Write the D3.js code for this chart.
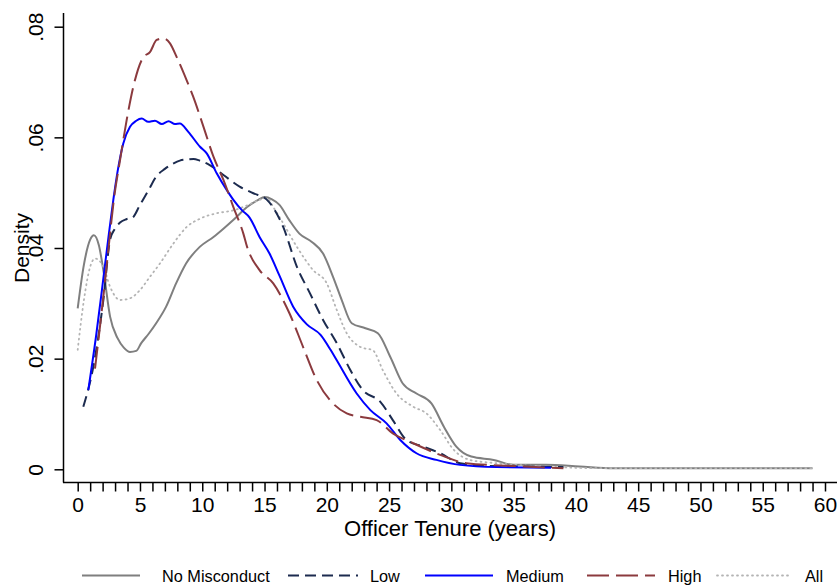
<!DOCTYPE html>
<html><head><meta charset="utf-8">
<script src="https://cdn.jsdelivr.net/npm/d3@7"></script>
<style>body{margin:0;background:#fff}svg{display:block}text{font-family:"Liberation Sans",Arial,Helvetica,sans-serif;fill:#000}</style>
</head><body><svg id="c" width="837" height="587"></svg>
<script>
// ---- data ----
const noMiscX = [0,0.5,1,1.3,1.7,2.1,2.6,3.2,3.7,4.2,4.7,5.1,5.7,6.3,7.1,7.9,8.7,9.8,10.9,11.7,12.6,13.6,14.5,15.0,15.6,16.2,17.0,17.8,18.8,19.7,20.5,21.2,22.0,23.1,24.1,25.1,26.1,27.2,28.4,29.4,30.4,31.6,33.4,35,37.6,40.3,43,46,50,55,59];
const noMiscY = [0.0291,0.037,0.0415,0.0423,0.0405,0.0354,0.0276,0.0237,0.022,0.0212,0.0214,0.0228,0.0245,0.0264,0.0294,0.0336,0.0372,0.0402,0.042,0.0435,0.0453,0.0474,0.0487,0.0492,0.0488,0.0478,0.045,0.0426,0.0411,0.039,0.0348,0.0306,0.0264,0.0255,0.0246,0.0203,0.0155,0.0137,0.0119,0.0077,0.0041,0.0023,0.0017,0.0008,0.0008,0.0005,0.0002,0.0002,0.0002,0.0002,0.0002];
const lowX = [0.45,1.25,2.06,2.6,3.0,3.4,3.9,4.4,5.0,5.7,6.3,7.0,7.7,8.2,8.75,9.3,9.8,10.6,11.7,13.0,14.1,15.2,16.5,17.6,18.65,19.7,20.8,21.9,22.9,24.3,25.3,26.4,27.75,29.1,30.7,33,36,39];
const lowY = [0.0113,0.0185,0.0306,0.0415,0.0435,0.0446,0.0452,0.0455,0.0478,0.0505,0.0529,0.0543,0.0553,0.0558,0.056,0.0561,0.0558,0.055,0.0532,0.0511,0.0499,0.0487,0.0438,0.0366,0.0318,0.027,0.0228,0.0179,0.0143,0.0122,0.0089,0.0053,0.0041,0.0029,0.0011,0.0006,0.0005,0.0004];
const medX = [0.85,1.5,2.06,2.5,2.86,3.2,3.66,4.2,4.7,5.14,5.67,6.2,6.75,7.3,7.81,8.2,8.88,9.82,10.36,11.16,11.96,12.5,13.2,13.8,14.6,15.4,16.2,17.3,18.4,19.5,20.3,20.8,22.4,23.5,24.8,25.9,27.2,28.8,30.7,33.6,38];
const medY = [0.0143,0.0245,0.0345,0.0425,0.0487,0.0538,0.0589,0.0619,0.063,0.0634,0.0628,0.063,0.0624,0.0629,0.0624,0.0625,0.061,0.0583,0.0571,0.0535,0.0505,0.0487,0.0468,0.0455,0.042,0.039,0.035,0.0294,0.0262,0.0243,0.0216,0.0197,0.0137,0.0107,0.0083,0.0053,0.0029,0.0017,0.0008,0.0004,0.0003];
const highX = [1.39,2.0,2.5,2.9,3.4,3.93,4.46,5.27,5.8,6.34,6.87,7.41,7.95,8.75,9.28,10.1,10.9,11.7,12.5,13.3,13.6,14.6,15.7,17.0,18.1,19.2,20.5,21.6,22.7,24.0,25.3,26.95,29.1,31.2,35,39];
const highY = [0.0182,0.03,0.0405,0.0487,0.0559,0.0631,0.0691,0.0745,0.0754,0.0776,0.0779,0.077,0.0745,0.0703,0.0673,0.0619,0.0565,0.0523,0.0474,0.0426,0.0402,0.036,0.0336,0.0282,0.0221,0.0161,0.0119,0.0101,0.0095,0.0089,0.0065,0.0047,0.0026,0.0011,0.0006,0.0002];
const allX = [0,0.5,1.0,1.4,2.06,2.6,3.4,4.2,5.0,5.8,6.6,7.68,8.75,9.82,11.2,12.5,13.6,14.6,15.2,15.7,16.2,17.6,18.9,20.0,20.8,21.6,22.7,23.7,24.5,25.6,26.95,28.0,29.1,30.2,31.5,33.6,37.6,42,50,59];
const allY = [0.0216,0.0306,0.0366,0.0381,0.0366,0.033,0.0306,0.0309,0.0324,0.0348,0.0372,0.0408,0.0438,0.0453,0.0463,0.0468,0.0477,0.0487,0.049,0.0474,0.0456,0.0402,0.036,0.0336,0.0288,0.0246,0.0221,0.0215,0.0179,0.0137,0.0113,0.0101,0.0071,0.0035,0.0017,0.0011,0.0005,0.0002,0.0002,0.0002];
const seriesNames = ["No Misconduct","Low","Medium","High","All"];
const xTicks = [0,5,10,15,20,25,30,35,40,45,50,55,60];
const yTicks = [0,0.02,0.04,0.06,0.08];
const yTickLabels = ["0",".02",".04",".06",".08"];

// ---- styles ----
const styles = [
  {color:"#7f7f7f", dash:null, w:2},
  {color:"#1c2b4f", dash:"11,6", w:2},
  {color:"#0000ff", dash:null, w:2},
  {color:"#8b3a3e", dash:"22,7", w:2},
  {color:"#b4b4b4", dash:"1,4", w:1.8}
];
const seriesData = [[noMiscX,noMiscY],[lowX,lowY],[medX,medY],[highX,highY],[allX,allY]]
  .map(([xs,ys]) => xs.map((x,i)=>[x,ys[i]]));

const svg = d3.select("#c");
const x = d3.scaleLinear().domain([0,60]).range([77.7,825]);
const y = d3.scaleLinear().domain([0,0.08]).range([469.3,26.7]);

// axes lines
svg.append("line").attr("x1",63.5).attr("x2",63.5).attr("y1",13).attr("y2",482.5).attr("stroke","#000").attr("stroke-width",1.5);
svg.append("line").attr("x1",63).attr("x2",837).attr("y1",482.5).attr("y2",482.5).attr("stroke","#000").attr("stroke-width",1.5);

// y ticks
const yAxis = d3.axisLeft(y).tickValues(yTicks).tickSize(9).tickFormat((d,i)=>yTickLabels[i]);
const gy = svg.append("g").attr("transform","translate(63.5,0)").call(yAxis);
gy.select(".domain").remove();
gy.selectAll(".tick line").attr("stroke","#000").attr("stroke-width",1.5);
gy.selectAll(".tick text").attr("font-size",21).attr("text-anchor","middle")
  .attr("x",null).attr("dy",null).attr("transform","translate(-20.5,0) rotate(-90)").attr("y",0).attr("fill","#000");

// x ticks (minor every 1, labels every 5)
const gxm = svg.append("g").attr("transform","translate(0,482.5)")
  .call(d3.axisBottom(x).tickValues(d3.range(0,61,1)).tickSize(9).tickFormat(""));
gxm.select(".domain").remove();
gxm.selectAll(".tick line").attr("stroke","#000").attr("stroke-width",1.5);
const gx = svg.append("g").attr("transform","translate(0,482.5)")
  .call(d3.axisBottom(x).tickValues(xTicks).tickSize(0).tickFormat(d3.format("d")));
gx.select(".domain").remove();
gx.selectAll(".tick text").attr("font-size",21).attr("y",29).attr("dy",0).attr("fill","#000");

// axis titles
svg.append("text").attr("x",450).attr("y",536).attr("text-anchor","middle").attr("font-size",22).text("Officer Tenure (years)");
svg.append("text").attr("transform","translate(29,248) rotate(-90)").attr("text-anchor","middle").attr("font-size",21).text("Density");

// lines
const line = d3.line().x(d=>x(d[0])).y(d=>y(d[1])).curve(d3.curveMonotoneX);
const order = [0,4,1,2,3];
order.forEach(i=>{
  const s = styles[i];
  svg.append("path").datum(seriesData[i]).attr("d",line).attr("fill","none")
    .attr("stroke",s.color).attr("stroke-width",s.w).attr("stroke-dasharray",s.dash)
    .attr("stroke-linejoin","round").attr("stroke-linecap",i===4?"round":"butt");
});

// legend
const legPos = [{x1:82,x2:140,tx:162},{x1:288,x2:358,tx:370},{x1:425,x2:493,tx:506},{x1:587,x2:655,tx:668},{x1:717,x2:790,tx:805}];
const leg = svg.append("g");
seriesNames.forEach((n,i)=>{
  const s = styles[i], p = legPos[i];
  leg.append("line").attr("x1",p.x1).attr("x2",p.x2).attr("y1",575.5).attr("y2",575.5)
    .attr("stroke",s.color).attr("stroke-width",s.w).attr("stroke-dasharray",s.dash)
    .attr("stroke-linecap",i===4?"round":"butt");
  leg.append("text").attr("x",p.tx).attr("y",581.5).attr("font-size",16.3).text(n);
});
</script></body></html>
